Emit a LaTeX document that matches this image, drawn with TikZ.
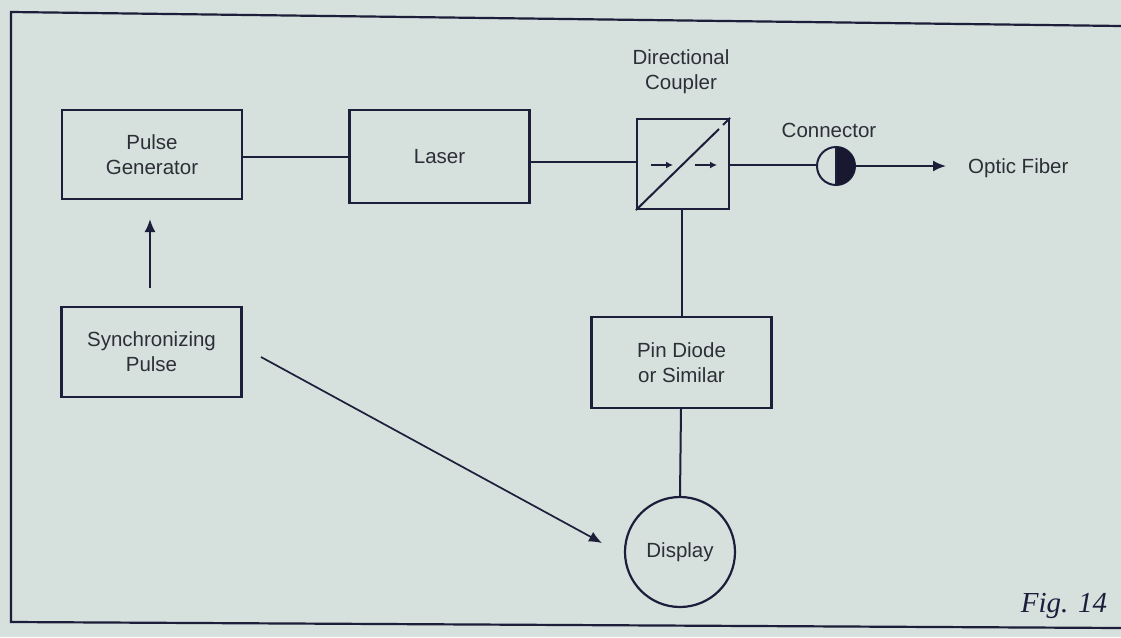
\documentclass[tikz,border=0pt]{standalone}
\usepackage{fontspec}
\setmainfont{Liberation Sans}
\newfontfamily\figfont{Liberation Serif}
\usetikzlibrary{arrows.meta}
\definecolor{paper}{RGB}{214,224,221}
\definecolor{ink}{RGB}{28,30,58}
\definecolor{txt}{RGB}{45,47,55}
\tikzset{
  blk/.style={draw=ink, line width=2.2pt, minimum width=#1, align=center, inner sep=0pt, text=txt, font=\fontsize{20.5}{25}\selectfont},
  blk/.default=180pt,
  wire/.style={draw=ink, line width=2pt},
  arr/.style={wire, -{Latex[length=13pt,width=11pt]}},
  lbl/.style={text=txt, font=\fontsize{20.5}{25}\selectfont, align=center, inner sep=0pt}
}
\begin{document}
\begin{tikzpicture}[x=1pt,y=-1pt]
\fill[paper] (0,0) rectangle (1121,637);
\useasboundingbox (0,0) rectangle (1121,637);
% frame
\draw[ink, line width=2.2pt] (1121,26) -- (11,12) -- (11,622) -- (1121,628);
% blocks
\node[blk, minimum height=89pt] (pulse) at (152,154.5) {Pulse\\Generator};
\node[blk, minimum height=93pt] (laser) at (439.5,156.5) {Laser};
\node[blk=92pt, minimum height=90pt] (coup) at (683,164) {};
\node[blk, minimum height=90pt] (sync) at (151.5,352) {Synchronizing\\Pulse};
\node[blk, minimum height=91pt] (pin) at (681.5,362.5) {Pin Diode\\or Similar};
\node[circle, draw=ink, line width=2.2pt, minimum size=110pt, inner sep=0pt, text=txt, font=\fontsize{20.5}{25}\selectfont] (disp) at (680,552) {Display};
% connector
\node[circle, draw=ink, line width=2pt, minimum size=38pt, inner sep=0pt] (conn) at (836,166) {};
\fill[ink!85!black] (836,147) arc[start angle=-90, end angle=90, radius=19] -- cycle;
\draw[ink, line width=1.6pt] (836,147) -- (836,185);
% coupler internals
\draw[ink, line width=2pt] (coup.south west) -- (719,129);
\draw[ink, line width=2pt] (723,125) -- (coup.north east);
\coordinate (a1s) at (651,165); \coordinate (a1e) at (673,165);
\coordinate (a2s) at (695,165); \coordinate (a2e) at (717,165);
\draw[wire, line width=1.6pt, -{Latex[length=7pt,width=7pt]}] (a1s) -- (a1e);
\draw[wire, line width=1.6pt, -{Latex[length=7pt,width=7pt]}] (a2s) -- (a2e);
% labels
\node[lbl] (dclbl) at (681,72) {Directional\\Coupler};
\node[lbl] (connlbl) at (829,130) {Connector};
\node[lbl, anchor=west] (fiber) at (968,168) {Optic Fiber};
\node[text=ink, font=\figfont\itshape\fontsize{29}{33}\selectfont, inner sep=0pt] (fig) at (1064,606) {Fig. 14};
% connections
\draw[wire] (pulse.east |- 0,157) -- (laser.west |- 0,157);
\draw[wire] (laser.east |- 0,162) -- (coup.west |- 0,162);
\draw[wire] (coup.east |- 0,165) -- (conn.west |- 0,165);
\coordinate (fibtip) at (946,166);
\draw[arr] (conn.east) -- (fibtip);
\draw[wire] (coup.south -| 682,0) -- (pin.north -| 682,0);
\draw[wire] (pin.south -| 681,0) -- (disp.north);
\coordinate (s1) at (150,288); \coordinate (s2) at (150,219);
\draw[arr] (s1) -- (s2);
\coordinate (d1) at (261,357); \coordinate (d2) at (602,543);
\draw[arr, line width=1.7pt] (d1) -- (d2);
\end{tikzpicture}
\end{document}
